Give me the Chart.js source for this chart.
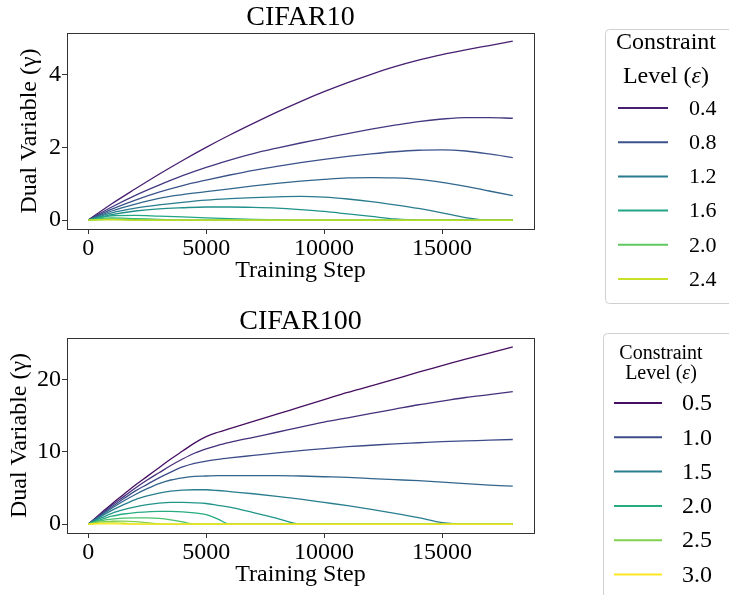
<!DOCTYPE html>
<html>
<head>
<meta charset="utf-8">
<script src="https://cdn.jsdelivr.net/npm/chart.js@4.4.1/dist/chart.umd.min.js"></script>
<style>
  body { margin: 0; background: #fff; }
  #wrap { position: relative; width: 729px; height: 595px; overflow: hidden; }
  canvas { position: absolute; left: 0; }
</style>
</head>
<body>
<div id="wrap">
  <canvas id="cifar10" width="729" height="310" style="top:0px"></canvas>
  <canvas id="cifar100" width="729" height="298" style="top:297px"></canvas>
</div>
<script>
// ---- CIFAR10: dual variable per constraint level ----
const stepsC10 = [0, 1000, 2000, 3000, 4000, 5000, 6000, 7000, 8000, 9000, 10000, 11000, 12000, 13000, 14000, 15000, 16000, 17000, 18000];
const levelsC10 = [0.4, 0.6, 0.8, 1.0, 1.2, 1.4, 1.6, 1.8, 2.0, 2.2, 2.4];
const legendC10 = ['0.4', '0.8', '1.2', '1.6', '2.0', '2.4'];
const yTicksC10 = [0, 2, 4];

const c10_e04 = [0, 0.45, 0.86, 1.26, 1.64, 2.00, 2.34, 2.66, 2.97, 3.26, 3.53, 3.78, 4.01, 4.22, 4.40, 4.55, 4.68, 4.80, 4.92];
const c10_e06 = [0, 0.36, 0.68, 0.96, 1.22, 1.45, 1.65, 1.83, 1.98, 2.12, 2.25, 2.38, 2.50, 2.61, 2.71, 2.78, 2.82, 2.82, 2.80];
const c10_e08 = [0, 0.30, 0.55, 0.77, 0.95, 1.10, 1.24, 1.37, 1.48, 1.58, 1.67, 1.75, 1.82, 1.88, 1.92, 1.93, 1.90, 1.82, 1.72];
const c10_e10 = [0, 0.25, 0.44, 0.60, 0.70, 0.78, 0.86, 0.94, 1.01, 1.07, 1.12, 1.16, 1.17, 1.16, 1.12, 1.04, 0.93, 0.80, 0.67];
const c10_e12 = [0, 0.20, 0.33, 0.42, 0.49, 0.55, 0.59, 0.62, 0.64, 0.65, 0.63, 0.58, 0.51, 0.42, 0.32, 0.20, 0.07, 0, 0];
const c10_e14 = [0, 0.15, 0.25, 0.31, 0.34, 0.36, 0.36, 0.35, 0.33, 0.29, 0.24, 0.17, 0.10, 0.03, 0, 0, 0, 0, 0];
const c10_e16 = [0, 0.12, 0.13, 0.11, 0.09, 0.06, 0.04, 0.02, 0.01, 0, 0, 0, 0, 0, 0, 0, 0, 0, 0];
const c10_e18 = [0, 0.06, 0.04, 0.02, 0, 0, 0, 0, 0, 0, 0, 0, 0, 0, 0, 0, 0, 0, 0];
const c10_e20 = [0, 0.03, 0.01, 0, 0, 0, 0, 0, 0, 0, 0, 0, 0, 0, 0, 0, 0, 0, 0];
const c10_e22 = [0, 0.02, 0, 0, 0, 0, 0, 0, 0, 0, 0, 0, 0, 0, 0, 0, 0, 0, 0];
const c10_e24 = [0, 0.01, 0, 0, 0, 0, 0, 0, 0, 0, 0, 0, 0, 0, 0, 0, 0, 0, 0];
const seriesC10 = [c10_e04, c10_e06, c10_e08, c10_e10, c10_e12, c10_e14, c10_e16, c10_e18, c10_e20, c10_e22, c10_e24];

// ---- CIFAR100 ----
const stepsC100 = [0, 500, 1000, 1500, 2000, 2500, 3000, 3500, 4000, 4500, 5000, 5500, 6000, 7000, 8000, 9000, 10000, 11000, 12000, 13000, 14000, 15000, 16000, 17000, 18000];
const levelsC100 = [0.5, 0.75, 1.0, 1.25, 1.5, 1.75, 2.0, 2.25, 2.5, 2.75, 3.0];
const legendC100 = ['0.5', '1.0', '1.5', '2.0', '2.5', '3.0'];
const yTicksC100 = [0, 10, 20];

const c100_e050 = [0, 1.4, 2.8, 4.1, 5.4, 6.6, 7.8, 9.0, 10.1, 11.2, 12.1, 12.7, 13.2, 14.2, 15.2, 16.2, 17.2, 18.2, 19.1, 20.05, 21.0, 21.9, 22.8, 23.65, 24.5];
const c100_e075 = [0, 1.3, 2.6, 3.8, 5.0, 6.1, 7.1, 8.1, 9.0, 9.8, 10.4, 10.9, 11.3, 12.0, 12.7, 13.4, 14.1, 14.7, 15.3, 15.9, 16.5, 17.0, 17.5, 17.9, 18.3];
const c100_e100 = [0, 1.2, 2.4, 3.5, 4.6, 5.5, 6.4, 7.2, 7.9, 8.4, 8.7, 8.95, 9.15, 9.5, 9.85, 10.15, 10.45, 10.7, 10.9, 11.1, 11.25, 11.4, 11.5, 11.6, 11.7];
const c100_e125 = [0, 1.1, 2.2, 3.2, 4.1, 4.9, 5.6, 6.1, 6.4, 6.6, 6.65, 6.7, 6.7, 6.7, 6.7, 6.65, 6.55, 6.45, 6.3, 6.15, 6.0, 5.8, 5.6, 5.4, 5.25];
const c100_e150 = [0, 1.0, 1.9, 2.7, 3.4, 3.9, 4.3, 4.55, 4.7, 4.75, 4.75, 4.65, 4.5, 4.2, 3.85, 3.45, 3.0, 2.55, 2.05, 1.5, 0.9, 0.2, 0, 0, 0];
const c100_e175 = [0, 0.8, 1.5, 2.0, 2.4, 2.7, 2.9, 3.0, 3.0, 2.95, 2.85, 2.6, 2.35, 1.6, 0.8, 0, 0, 0, 0, 0, 0, 0, 0, 0, 0];
const c100_e200 = [0, 0.6, 1.1, 1.4, 1.6, 1.7, 1.75, 1.75, 1.7, 1.55, 1.3, 0.7, 0, 0, 0, 0, 0, 0, 0, 0, 0, 0, 0, 0, 0];
const c100_e225 = [0, 0.45, 0.7, 0.82, 0.87, 0.87, 0.8, 0.6, 0.3, 0, 0, 0, 0, 0, 0, 0, 0, 0, 0, 0, 0, 0, 0, 0, 0];
const c100_e250 = [0, 0.3, 0.4, 0.42, 0.35, 0.2, 0.05, 0, 0, 0, 0, 0, 0, 0, 0, 0, 0, 0, 0, 0, 0, 0, 0, 0, 0];
const c100_e275 = [0, 0.15, 0.18, 0.12, 0.03, 0, 0, 0, 0, 0, 0, 0, 0, 0, 0, 0, 0, 0, 0, 0, 0, 0, 0, 0, 0];
const c100_e300 = [0, 0.05, 0.04, 0.01, 0, 0, 0, 0, 0, 0, 0, 0, 0, 0, 0, 0, 0, 0, 0, 0, 0, 0, 0, 0, 0];
const seriesC100 = [c100_e050, c100_e075, c100_e100, c100_e125, c100_e150, c100_e175, c100_e200, c100_e225, c100_e250, c100_e275, c100_e300];

const xTicks = [0, 5000, 10000, 15000];

// viridis stops at 0, 0.1, ... 1.0
const viridisStops = ['#440154', '#482475', '#414487', '#355f8d', '#2a788e', '#21918c', '#22a884', '#44bf70', '#7ad151', '#bddf26', '#fde725'];
function viridis(t) {
  t = Math.min(1, Math.max(0, t));
  const p = t * 10, i = Math.min(9, Math.floor(p)), f = p - i;
  const a = viridisStops[i], b = viridisStops[i + 1];
  const c = [1, 3, 5].map(k => {
    const u = parseInt(a.substr(k, 2), 16), v = parseInt(b.substr(k, 2), 16);
    return Math.round(u + (v - u) * f);
  });
  return 'rgb(' + c.join(',') + ')';
}

const FONT = "'Liberation Serif', 'Times New Roman', serif";

// axes box + boxed legend (only every other level is listed)
const frameLegend = {
  id: 'frameLegend',
  afterDatasetsDraw(chart) {
    const { ctx, chartArea: a } = chart;
    ctx.save();
    ctx.strokeStyle = '#333';
    ctx.lineWidth = 1;
    ctx.strokeRect(Math.round(a.left) + 0.5, Math.round(a.top) + 0.5, Math.round(a.right - a.left), Math.round(a.bottom - a.top));
    ctx.restore();
  },
  afterDraw(chart, args, o) {
    const ctx = chart.ctx;
    ctx.save();
    // box
    ctx.fillStyle = 'rgba(255,255,255,0.8)';
    ctx.strokeStyle = '#d0d0d0';
    ctx.lineWidth = 1;
    ctx.beginPath();
    ctx.roundRect(o.box[0] + 0.5, o.box[1] + 0.5, o.box[2], o.box[3], 4);
    ctx.fill();
    ctx.stroke();
    // title, the symbol in italics
    ctx.fillStyle = '#000';
    ctx.textBaseline = 'middle';
    ctx.textAlign = 'center';
    ctx.font = o.titleSize + 'px ' + FONT;
    ctx.fillText(o.title[0], o.titleX, o.titleY[0]);
    const parts = ['Level (', 'ε', ')'];
    const fonts = [o.titleSize + 'px ' + FONT, 'italic ' + o.titleSize + 'px ' + FONT, o.titleSize + 'px ' + FONT];
    const widths = parts.map((s, i) => { ctx.font = fonts[i]; return ctx.measureText(s).width; });
    let x = o.titleX - widths.reduce((s, w) => s + w, 0) / 2;
    ctx.textAlign = 'left';
    parts.forEach((s, i) => { ctx.font = fonts[i]; ctx.fillText(s, x, o.titleY[1]); x += widths[i]; });
    // entries
    ctx.font = o.labelSize + 'px ' + FONT;
    o.labels.forEach((lab, i) => {
      const ds = chart.data.datasets.find(d => d.label === lab);
      const y = o.firstY + i * o.gap;
      ctx.strokeStyle = ds.borderColor;
      ctx.lineWidth = 2;
      ctx.beginPath();
      ctx.moveTo(o.lineX[0], y);
      ctx.lineTo(o.lineX[1], y);
      ctx.stroke();
      ctx.fillText(lab, o.textX, y + 1);
    });
    ctx.restore();
  }
};

function makeChart(id, p) {
  const n = p.series.length;
  const datasets = p.series.map((vals, i) => ({
    label: p.levels[i].toFixed(1),
    data: vals.map((v, j) => ({ x: p.steps[j], y: v })),
    borderColor: viridis(p.colorT(p.levels[i])),
    borderWidth: 1.3,
    pointRadius: 0,
    fill: false,
    cubicInterpolationMode: 'monotone',
    order: n - 1 - i
  }));
  return new Chart(document.getElementById(id), {
    type: 'line',
    data: { datasets },
    plugins: [frameLegend],
    options: {
      responsive: false,
      animation: false,
      layout: { padding: { left: 0, right: 195, top: 0, bottom: 0 } },
      plugins: {
        legend: { display: false },
        tooltip: { enabled: false },
        title: {
          display: true,
          text: p.title,
          fullSize: false,
          color: '#000',
          font: { family: FONT, size: 28, weight: 'normal', lineHeight: 1.1 },
          padding: p.titlePad
        },
        frameLegend: p.legend
      },
      scales: {
        x: {
          type: 'linear',
          min: -900, max: 18900,
          afterBuildTicks: s => { s.ticks = xTicks.map(v => ({ value: v })); },
          afterFit: s => { s.height = p.xHeight; },
          border: { display: false },
          grid: { drawOnChartArea: false, drawTicks: true, tickLength: 5, color: '#333' },
          ticks: { color: '#000', padding: 0, maxRotation: 0, font: { family: FONT, size: 24 }, callback: v => String(v) },
          title: { display: true, text: 'Training Step', color: '#000', font: { family: FONT, size: 24, lineHeight: 1.2 }, padding: { top: 0, bottom: p.xTitlePad } }
        },
        y: {
          min: p.yRange[0], max: p.yRange[1],
          afterBuildTicks: s => { s.ticks = p.yTicks.map(v => ({ value: v })); },
          afterFit: s => { s.width = 67; },
          border: { display: false },
          grid: { drawOnChartArea: false, drawTicks: true, tickLength: 5, color: '#333' },
          ticks: { color: '#000', padding: 1, font: { family: FONT, size: 24 }, callback: v => String(v) },
          title: { display: true, text: 'Dual Variable (γ)', color: '#000', font: { family: FONT, size: 24, lineHeight: 1.2 }, padding: { top: p.yTitlePad, bottom: 0 } }
        }
      }
    }
  });
}

makeChart('cifar10', {
  title: 'CIFAR10', steps: stepsC10, levels: levelsC10, series: seriesC10,
  colorT: e => (e - 0.2) / 2.4,
  yRange: [-0.245, 5.145], yTicks: yTicksC10,
  titlePad: { top: 2, bottom: 0.2 },
  xHeight: 81, xTitlePad: 25, yTitlePad: 15.5,
  legend: {
    box: [605, 29, 140, 274],
    title: ['Constraint', 'Level (ε)'], titleSize: 24, titleX: 666, titleY: [43, 77],
    labels: legendC10, labelSize: 22, firstY: 108, gap: 34.2, lineX: [618, 668], textX: 689
  }
});

makeChart('cifar100', {
  title: 'CIFAR100', steps: stepsC100, levels: levelsC100, series: seriesC100,
  colorT: e => (e - 0.4) / 2.6,
  yRange: [-1.225, 25.725], yTicks: yTicksC100,
  titlePad: { top: 9.1, bottom: 1.1 },
  xHeight: 62, xTitlePad: 6, yTitlePad: 5.5,
  legend: {
    box: [603, 36, 140, 300],
    title: ['Constraint', 'Level (ε)'], titleSize: 20, titleX: 661, titleY: [57, 77],
    labels: legendC100, labelSize: 24, firstY: 106, gap: 34.3, lineX: [614, 662], textX: 682
  }
});
</script>
</body>
</html>
